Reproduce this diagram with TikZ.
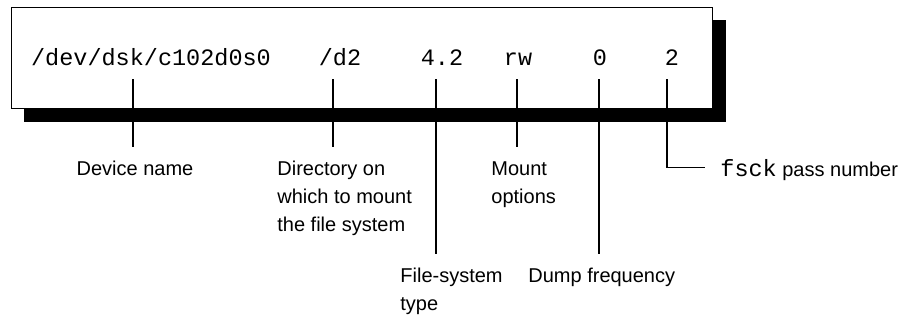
\documentclass[tikz,border=0pt]{standalone}
\usepackage{fontspec}
\setmainfont{Liberation Sans}
\setmonofont{Liberation Mono}
\usetikzlibrary{positioning}
\tikzset{
  field/.style={font=\ttfamily\fontsize{11.75}{14}\selectfont,inner sep=0pt},
  lbl/.style={font=\fontsize{10}{14}\selectfont,align=left,inner xsep=0pt,inner ysep=7pt},
  tick/.style={line width=0.7pt}
}

\begin{document}
\begin{tikzpicture}[x=0.5pt,y=-0.5pt]
\useasboundingbox (0,0) rectangle (906,321);
% shadowed frame
\fill[black] (24,20) rectangle (726,122);
\draw[fill=white,line width=0.5pt] (11,7) rectangle (712,108);
% entry fields
\node[field,anchor=base] (dev) at (151,65) {/dev/dsk/c102d0s0};
\node[field,anchor=base] (dir) at (340,65) {/d2};
\node[field,anchor=base] (fstype) at (442,65) {4.2};
\node[field,anchor=base] (opts) at (518,65) {rw};
\node[field,anchor=base] (dump) at (600,65) {0};
\node[field,anchor=base] (pass) at (672,65) {2};
\coordinate (tdev) at (133,79);
\coordinate (tdir) at (333,79);
\coordinate (tfstype) at (436,79);
\coordinate (topts) at (517,79);
\coordinate (tdump) at (599,79);
\coordinate (tpass) at (667,79);
% labels
\node[lbl,anchor=north] (devlab) at (135,147) {Device name};
\node[lbl,anchor=north west] (dirlab) at (277,147) {Directory on\\which to mount\\the file system};
\node[lbl,anchor=north west] (optslab) at (491,147) {Mount\\options};
\node[lbl,anchor=north west] (fstypelab) at (400,254) {File-system\\type};
\node[lbl,anchor=north west] (dumplab) at (528,254) {Dump frequency};
\node[lbl,anchor=base west] (passlab) at (720,176) {\texttt{\fontsize{11.75}{14}\selectfont fsck} pass number};
% connectors
\draw[tick] (tdev) -- (tdev |- devlab.north);
\draw[tick] (tdir) -- (tdir |- dirlab.north);
\draw[tick] (tfstype) -- (tfstype |- fstypelab.north);
\draw[tick] (topts) -- (topts |- optslab.north);
\draw[tick] (tdump) -- (tdump |- dumplab.north);
\draw[tick] (tpass) |- ([xshift=-7.5pt,yshift=1pt]passlab.west);
\end{tikzpicture}
\end{document}
